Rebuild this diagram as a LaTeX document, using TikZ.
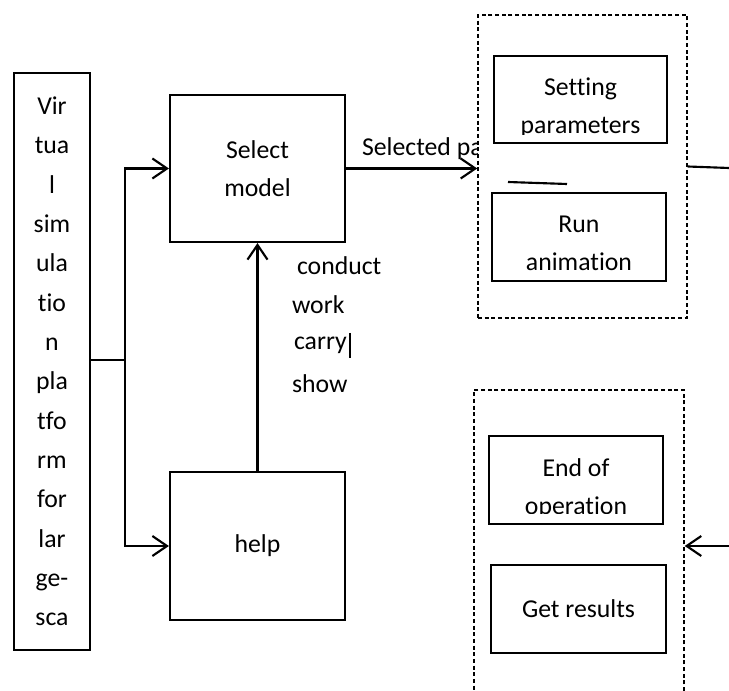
\documentclass[tikz,border=0pt]{standalone}
\usepackage{fontspec}
\setmainfont{Carlito}[Ligatures=NoCommon]
\usetikzlibrary{arrows.meta}
\begin{document}
\begin{tikzpicture}[x=0.75pt,y=-0.75pt,line width=1.6pt,line join=miter,>={Straight Barb[length=11pt,width=15pt]}]
  \tikzset{box/.style 2 args={draw,inner sep=0pt,minimum width=#1*0.75pt,minimum height=#2*0.75pt},
    group/.style 2 args={box={#1}{#2},fill=white,line width=1.1pt,dash pattern=on 3pt off 2pt},
    every node/.style={align=center,font=\fontsize{19.3}{28.5}\selectfont}}
  \clip (0,0) rectangle (729,691);
  % left side
  \node[box={76}{577},font=\fontsize{19.3}{29.5}\selectfont] (plat) at (52,361.5)
    {Vir\\tua\\l\\sim\\ula\\tio\\n\\pla\\tfo\\rm\\for\\lar\\ge-\\sca};
  \node[box={175}{147}] (select) at (257.5,168.5) {Select\\model};
  \node[box={175}{148}] (help) at (257.5,546) {help};
  \coordinate (fork) at (125,360);
  \draw (plat.east |- fork) -- (fork);
  \draw[->] (fork) |- (select.west);
  \draw[->] (fork) |- (help.west);
  \draw[->] (help.north) -- (select.south);
  \foreach \lbl/\x/\y in {conduct/296/266,work/291/305,carry/293/345,show/291/384}
    \node[anchor=west,inner sep=0pt] (\lbl) at (\x,\y) {\lbl};
  \draw[line width=1pt] ([xshift=1.5pt]carry.east) ++(0,-12) -- ++(0,25);
  % upper group
  \node[anchor=west,inner sep=0pt] (sel) at (361,149) {Selected pa};
  \node[group={209}{303}] (setbox) at (582.5,166.5) {};
  \node[box={173}{87}] (params) at (580.5,99.5) {};
  \begin{scope}
    \clip (params.south west) ++(0,-10) rectangle (params.north east);
    \node (paramtext) at ([yshift=-6pt]params.center) {Setting\\parameters};
  \end{scope}
  \node[box={174}{88}] (run) at (579,237) {};
  \node (runtext) at ([yshift=-4.5pt]run.center) {Run\\animation};
  \draw[->] (select.east) -- (select.east -| setbox.west);
  \coordinate (bar1) at (508,182);
  \coordinate (bar2) at (567,184);
  \draw (bar1) -- (bar2);
  \coordinate (outR) at (729,168);
  \draw (setbox.east) -- (outR);
  % lower group
  \node[group={210}{311}] (endbox) at (579,545.5) {};
  \node[box={174}{88}] (endop) at (576,480) {};
  \begin{scope}
    \clip (endop.south west) ++(0,-12) rectangle (endop.north east);
    \node (endtext) at ([yshift=-6.5pt]endop.center) {End of\\operation};
  \end{scope}
  \node[box={175}{88}] (results) at (578.5,609) {Get results};
  \coordinate (inR) at (729,546);
  \draw[->] (inR) -- (inR -| endbox.east);
\end{tikzpicture}
\end{document}
